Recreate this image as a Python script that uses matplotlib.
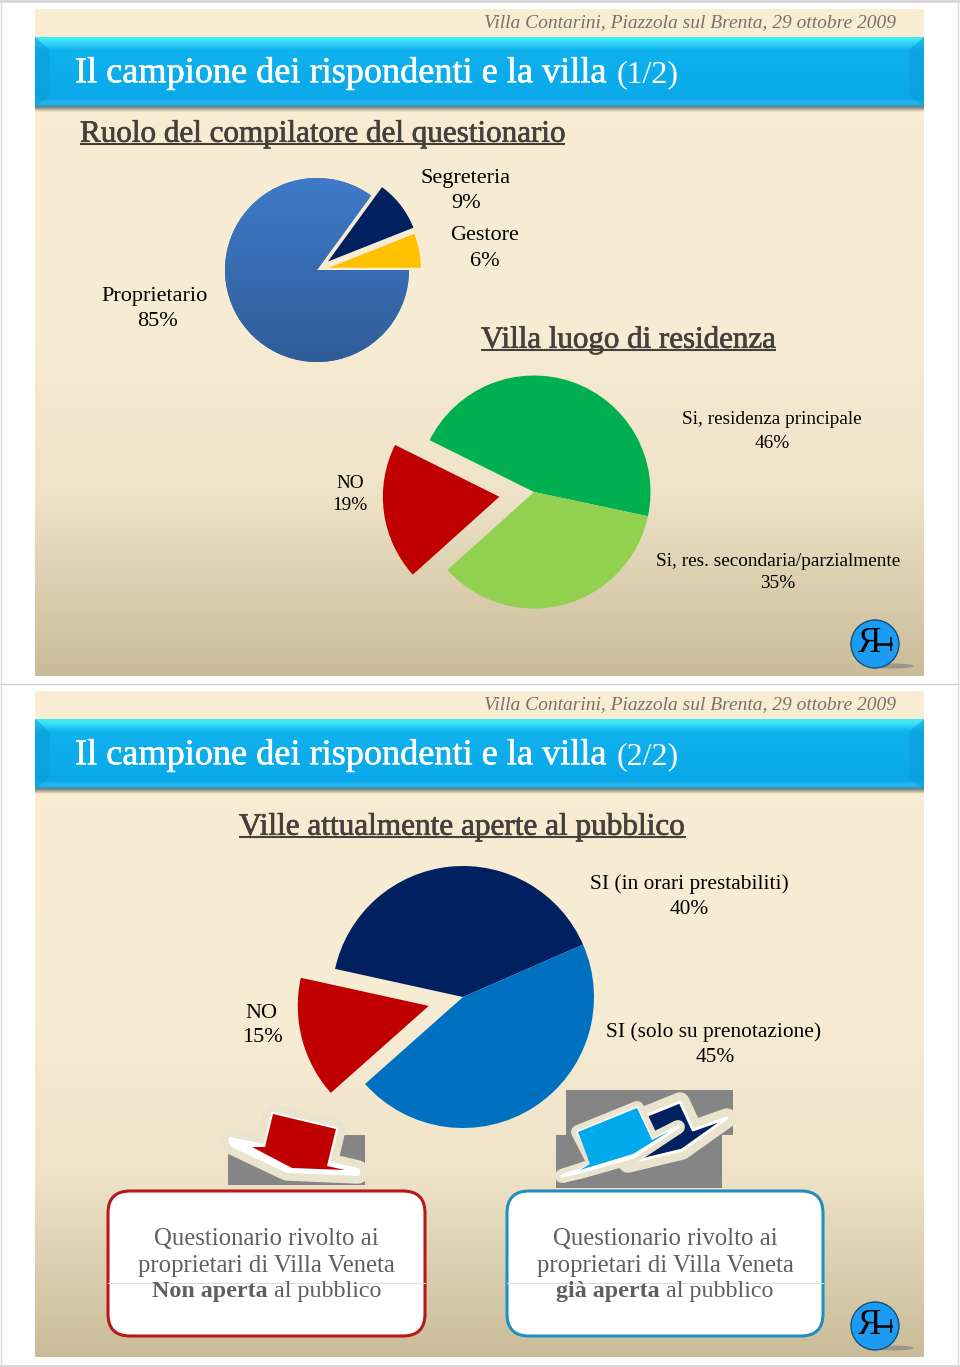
import numpy as np
import matplotlib
matplotlib.use("Agg")
import matplotlib.pyplot as plt
from matplotlib.colors import LinearSegmentedColormap
from matplotlib.patches import Polygon, Rectangle, FancyBboxPatch, Ellipse
import matplotlib.patheffects as pe

plt.rcParams['font.family'] = ['Liberation Serif', 'DejaVu Serif']

# ---------- data ----------
role_labels = ["Gestore", "Segreteria", "Proprietario"]
role_values = [6, 9, 85]
role_colors = ["#FFC000", "#002060", "#3A6DB5"]

home_labels = ["Si, residenza principale", "NO", "Si, res. secondaria/parzialmente"]
home_values = [46, 19, 35]
home_colors = ["#00B050", "#C00000", "#92D050"]

open_labels = ["SI (in orari prestabiliti)", "NO", "SI (solo su prenotazione)"]
open_values = [40, 15, 45]
open_colors = ["#002060", "#C00000", "#0070C0"]

date_text = "Villa Contarini, Piazzola sul Brenta, 29 ottobre 2009"
slide_title = "Il campione dei rispondenti e la villa"
box_lines = ["Questionario rivolto ai", "proprietari di Villa Veneta"]

# ---------- canvas ----------
W, H = 960, 1367
fig = plt.figure(figsize=(W / 100, H / 100), dpi=100, facecolor="white")
ax = fig.add_axes([0, 0, 1, 1])
ax.set_xlim(0, W)
ax.set_ylim(H, 0)
ax.axis("off")

bg_cmap = LinearSegmentedColormap.from_list(
    "bg", [(0, "#F9EDD3"), (0.5, "#F6EBD3"), (0.72, "#EFE4C9"), (1, "#CABC98")])
bar_cmap = LinearSegmentedColormap.from_list(
    "bar", [(0, "#3FEFF2"), (0.06, "#3CE0F4"), (0.18, "#10B2EE"), (0.88, "#0AA8E8"),
            (0.93, "#25B5EC"), (0.97, "#2AB0E0"), (1, "#2C8FB0")])
grad = np.linspace(0, 1, 256).reshape(-1, 1)

shadow = np.zeros((32, 1, 4))
shadow[..., :3] = np.array([0.35, 0.30, 0.22])
shadow[:, 0, 3] = np.linspace(0.7, 0, 32)


def text(x, y, s, size, color="black", ha="center", **kw):
    return ax.text(x, y, s, fontsize=size, color=color, ha=ha, va="center", zorder=6, **kw)


def underlined(x, y, s, size):
    t = text(x, y, s, size, color="#45403A", ha="left",
             path_effects=[pe.withStroke(linewidth=0.5, foreground="#45403A")])
    fig.canvas.draw()
    e = t.get_window_extent()
    ax.plot([x, x + e.width], [y + 10, y + 10], color="#45403A", lw=1.5, zorder=6,
            solid_capstyle="butt")


def slide(top, bottom, bar_top, page):
    ax.imshow(grad, cmap=bg_cmap, extent=[35, 924, bottom, top], aspect="auto", zorder=1)
    ax.imshow(shadow, extent=[35, 924, bar_top + 75, bar_top + 70], aspect="auto", zorder=2)
    ax.imshow(grad, cmap=bar_cmap, extent=[35, 924, bar_top + 70, bar_top], aspect="auto", zorder=3)
    for x0, d in [(35, 1), (924, -1)]:
        ax.add_patch(Polygon([(x0, bar_top), (x0 + 15 * d, bar_top + 13), (x0 + 15 * d, bar_top + 58),
                              (x0, bar_top + 70)], fc="#0A9CD8", ec="none", alpha=.55, zorder=4))
    text(896, top + 14, date_text, 14.0, color="#77736C", ha="right", style="italic")
    t = text(75, bar_top + 36.5, slide_title, 26.1, color="white", ha="left",
             path_effects=[pe.withStroke(linewidth=0.4, foreground="white")])
    fig.canvas.draw()
    e = t.get_window_extent()
    text(75 + e.width + 9, bar_top + 37.5, page, 23, color="white", ha="left")
    ax.set_xlim(0, W)
    ax.set_ylim(H, 0)


def logo(cx, cy):
    ax.add_patch(Ellipse((cx + 17, cy + 22), 44, 5, fc="#8C8980", ec="none", alpha=.75, zorder=5))
    ax.add_patch(Ellipse((cx, cy), 48, 48, fc="#1C9BF2", ec="#16507A", lw=1.0, zorder=6))
    ax.text(cx - 6, cy, "Я", fontsize=25, color="black", ha="center", va="center", zorder=7)
    ax.plot([cx + 2, cx + 16], [cy, cy], color="black", lw=1.8, zorder=7)
    ax.plot([cx + 16, cx + 16], [cy - 6, cy + 6], color="black", lw=1.2, zorder=7)


def pie(cx, cy, r, values, colors, start, explode, gradient_idx=None):
    a = fig.add_axes([(cx - r) / W, 1 - (cy + r) / H, 2 * r / W, 2 * r / H], zorder=5)
    wedges, _ = a.pie(values, colors=colors, startangle=start, explode=explode, radius=1,
                      counterclock=True, wedgeprops={"clip_on": False, "lw": 0})
    if gradient_idx is not None:
        cm = LinearSegmentedColormap.from_list("w", ["#3F7CCB", "#2F5B96"])
        im = a.imshow(grad, cmap=cm, extent=[-1.1, 1.1, -1.1, 1.1], aspect="auto", zorder=3)
        im.set_clip_path(wedges[gradient_idx])
    a.set_xlim(-1, 1)
    a.set_ylim(-1, 1)
    a.patch.set_alpha(0)
    return a


# ---------- page frame ----------
ax.add_patch(Rectangle((0, 0), W, 2.5, fc="#D9D9D9", ec="none", zorder=1))
ax.add_patch(Rectangle((0, 1364.5), W, 2.5, fc="#D9D9D9", ec="none", zorder=1))
ax.plot([0, W], [683.5, 683.5], color="#CFCFCF", lw=1, zorder=1)
ax.plot([0.5, 0.5], [0, H], color="#DDDDDD", lw=1, zorder=1)
ax.plot([957.5, 957.5], [0, H], color="#DDDDDD", lw=1, zorder=1)

slide(9, 676, 37, "(1/2)")
slide(691, 1357, 719, "(2/2)")

# ---------- headings ----------
underlined(80, 134, "Ruolo del compilatore del questionario", 22.4)
underlined(481, 340, "Villa luogo di residenza", 22.3)
underlined(239, 827, "Ville attualmente aperte al pubblico", 22.5)

# ---------- pies ----------
pie(317, 270, 92, role_values, role_colors, 0, [0.13, 0.15, 0], gradient_idx=2)
pie(534, 492, 116.5, home_values, home_colors, -12, [0, 0.3, 0])
pie(463, 997, 131, open_values, open_colors, 23.6, [0, 0.27, 0])

# ---------- pie labels ----------
lab = 16
text(466, 178, role_labels[1], lab)
text(466, 203, f"{role_values[1]}%", lab)
text(485, 236, role_labels[0], lab)
text(485, 261, f"{role_values[0]}%", lab)
text(155, 296, role_labels[2], lab)
text(157, 321, f"{role_values[2]}%", lab)

lab2 = 13.9
text(772, 420, home_labels[0], lab2)
text(772, 443, f"{home_values[0]}%", lab2)
text(350, 483, home_labels[1], lab2)
text(350, 506, f"{home_values[1]}%", lab2)
text(778, 561, home_labels[2], lab2)
text(778, 583, f"{home_values[2]}%", lab2)

lab3 = 15.4
text(689, 884, open_labels[0], lab3)
text(689, 910, f"{open_values[0]}%", lab3)
text(261, 1013, open_labels[1], lab)
text(262, 1038, f"{open_values[1]}%", lab)
text(714, 1032, open_labels[2], lab3)
text(715, 1057, f"{open_values[2]}%", lab3)

# ---------- hats ----------
BEIGE = "#EAE3CD"
halo = [pe.withStroke(linewidth=14, foreground=BEIGE), pe.Normal()]
GREY = "#858585"
ax.add_patch(Rectangle((228, 1135), 137, 50, fc=GREY, ec="none", zorder=2))
ax.add_patch(Rectangle((566, 1090), 167, 45, fc=GREY, ec="none", zorder=2))
ax.add_patch(Rectangle((556, 1135), 166, 53, fc=GREY, ec="none", zorder=2))


def poly(pts, fc, ec="white", lw=1.5, z=3, fx=None):
    p = Polygon(pts, closed=True, fc=fc, ec=ec, lw=lw, zorder=z, joinstyle="round")
    if fx:
        p.set_path_effects(fx)
    ax.add_patch(p)


# red hat: silhouette with halo and white edge, then red fill without an inner seam
red_outline = [(273, 1114), (336, 1129), (328, 1163), (358, 1170), (358, 1174), (287, 1171),
               (232, 1145), (230, 1139), (265, 1146)]
poly(red_outline, "white", lw=2.5, z=3, fx=halo)
poly([(273, 1114), (336, 1129), (327, 1166), (345, 1170), (292, 1168), (252, 1147), (265, 1147)],
     "#C00000", ec="none", lw=0, z=3.2)

# navy hat behind
poly([(643, 1117), (680, 1102), (693, 1130), (727, 1118), (682, 1150), (628, 1163), (638, 1155),
      (678, 1127), (650, 1135)], "#002060", lw=2, z=3.0, fx=halo)
# light blue hat in front
light_outline = [(578, 1132), (637, 1108), (652, 1140), (678, 1127), (633, 1157), (580, 1172), (562, 1176),
                 (595, 1165)]
poly(light_outline, "white", lw=2.2, z=3.1,
     fx=[pe.withStroke(linewidth=10, foreground=BEIGE), pe.Normal()])
poly([(578, 1132), (637, 1108), (652, 1140), (670, 1131), (633, 1154), (580, 1170), (590, 1164)],
     "#00A8EC", ec="none", lw=0, z=3.3)

# ---------- boxes ----------
for x0, x1, col, bold, rest in [(108, 425, "#B8171C", "Non aperta", " al pubblico"),
                                (507, 823, "#1E8FBE", "già aperta", " al pubblico")]:
    ax.add_patch(FancyBboxPatch((x0 + 22, 1191 + 22), x1 - x0 - 44, 145 - 44,
                                boxstyle="round,pad=22,rounding_size=22",
                                fc="white", ec=col, lw=2.2, zorder=3))
    cx = (x0 + x1) / 2
    text(cx, 1239, box_lines[0], 17.8, color="#5F5F5F")
    text(cx, 1266, box_lines[1], 17.8, color="#5F5F5F")
    b = text(0, 1292, bold, 17.3, color="#5F5F5F", ha="left", weight="bold")
    r = text(0, 1292, rest, 17.3, color="#5F5F5F", ha="left")
    fig.canvas.draw()
    bw, rw = b.get_window_extent().width, r.get_window_extent().width
    b.set_x(cx - (bw + rw) / 2)
    r.set_x(cx - (bw + rw) / 2 + bw)
    ax.plot([x0, x1], [1283, 1283], color="#DDDDDD", lw=0.8, zorder=4)

logo(875, 644)
logo(875, 1326)

fig.savefig("out.png", dpi=100, facecolor="white")
